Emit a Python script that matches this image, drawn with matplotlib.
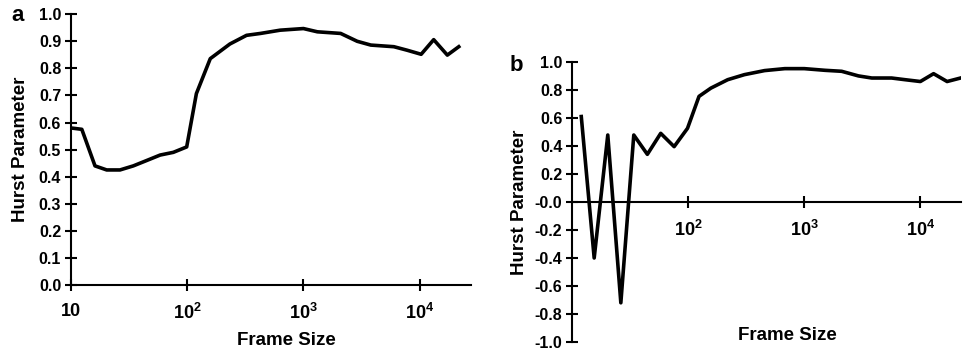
import numpy as np
import matplotlib
matplotlib.use('Agg')
import matplotlib.pyplot as plt
from matplotlib.ticker import FixedLocator, FixedFormatter, NullLocator

plt.rcParams['font.family'] = ['Liberation Sans', 'DejaVu Sans']
plt.rcParams['axes.unicode_minus'] = False
plt.rcParams['mathtext.fontset'] = 'custom'
plt.rcParams['mathtext.rm'] = 'Liberation Sans'
plt.rcParams['mathtext.bf'] = 'Liberation Sans:bold'

# panel a: frame size vs Hurst parameter
frame_a = [10, 12.4, 16.1, 20.3, 26.4, 34.4, 44.9, 58.5, 76, 99, 120, 158,
           233, 324, 427, 631, 1000, 1318, 2090, 2900, 3800, 6000, 7800,
           10300, 13200, 17300, 21700]
hurst_a = [0.58, 0.575, 0.44, 0.425, 0.425, 0.44, 0.46, 0.48, 0.49, 0.51,
           0.707, 0.836, 0.89, 0.922, 0.929, 0.941, 0.947, 0.935, 0.929,
           0.90, 0.886, 0.88, 0.867, 0.852, 0.906, 0.849, 0.88]

# panel b
frame_b = [12.0, 15.5, 20.3, 26.3, 34, 44.5, 58, 75.7, 98.7, 124, 157, 219,
           305, 455, 680, 1000, 1510, 2100, 2930, 3820, 5660, 7390, 10000,
           13000, 17000, 22200]
hurst_b = [0.61, -0.40, 0.478, -0.72, 0.478, 0.34, 0.49, 0.395, 0.526, 0.754,
           0.813, 0.873, 0.909, 0.938, 0.952, 0.952, 0.94, 0.933, 0.90, 0.885,
           0.885, 0.873, 0.86, 0.916, 0.86, 0.885]

xticks_a = [10, 100, 1000, 10000]
xlabels_a = ['10', r'$\mathbf{10^{2}}$', r'$\mathbf{10^{3}}$', r'$\mathbf{10^{4}}$']
xticks_b = [100, 1000, 10000]
xlabels_b = [r'$\mathbf{10^{2}}$', r'$\mathbf{10^{3}}$', r'$\mathbf{10^{4}}$']
yticks_a = np.round(np.arange(0, 1.01, 0.1), 1)
yticks_b = np.round(np.arange(-1.0, 1.01, 0.2), 1)

fig = plt.figure(figsize=(9.68, 3.55), dpi=100)
ax1 = fig.add_axes([0.0733, 0.197, 0.413, 0.763])
ax2 = fig.add_axes([0.591, 0.0366, 0.402, 0.789])

tick_font = dict(fontsize=11.5, fontweight='bold')
label_font = dict(fontsize=13.5, fontweight='bold')


def style(ax):
    ax.set_xscale('log')
    for s in ['top', 'right']:
        ax.spines[s].set_visible(False)
    for s in ['left', 'bottom']:
        ax.spines[s].set_linewidth(1.5)
    ax.xaxis.set_minor_locator(NullLocator())
    ax.tick_params(direction='inout', length=8, width=1.5, pad=3)
    ax.tick_params(axis='x', pad=9)


# panel a
ax1.plot(frame_a, hurst_a, color='black', lw=2.6, solid_joinstyle='round')
style(ax1)
ax1.set_xlim(10, 27500)
ax1.set_ylim(0, 1.0)
ax1.xaxis.set_major_locator(FixedLocator(xticks_a))
ax1.xaxis.set_major_formatter(FixedFormatter(xlabels_a))
ax1.set_yticks(yticks_a)
ax1.set_yticklabels(['%.1f' % v for v in yticks_a], **tick_font)
for t in ax1.get_xticklabels():
    t.set_fontsize(13)
    t.set_fontweight('bold')
ax1.set_ylabel('Hurst Parameter', labelpad=7, **label_font)
fig.text(0.296, 0.042, 'Frame Size', ha='center', va='center', **label_font)
fig.text(0.012, 0.955, 'a', ha='left', va='center', fontsize=16, fontweight='bold')

# panel b
ax2.plot(frame_b, hurst_b, color='black', lw=2.6, solid_joinstyle='round')
style(ax2)
ax2.spines['bottom'].set_position(('data', 0))
ax2.set_xlim(10, 22500)
ax2.set_ylim(-1.0, 1.0)
ax2.xaxis.set_major_locator(FixedLocator(xticks_b))
ax2.xaxis.set_major_formatter(FixedFormatter(xlabels_b))
ax2.set_yticks(yticks_b)
ax2.set_yticklabels(['%.1f' % v for v in yticks_b], **tick_font)
for t in ax2.get_xticklabels():
    t.set_fontsize(13)
    t.set_fontweight('bold')
ax2.set_ylabel('Hurst Parameter', labelpad=5, **label_font)
fig.text(0.813, 0.056, 'Frame Size', ha='center', va='center', **label_font)
fig.text(0.526, 0.815, 'b', ha='left', va='center', fontsize=16, fontweight='bold')

fig.savefig('out.png', dpi=100)
